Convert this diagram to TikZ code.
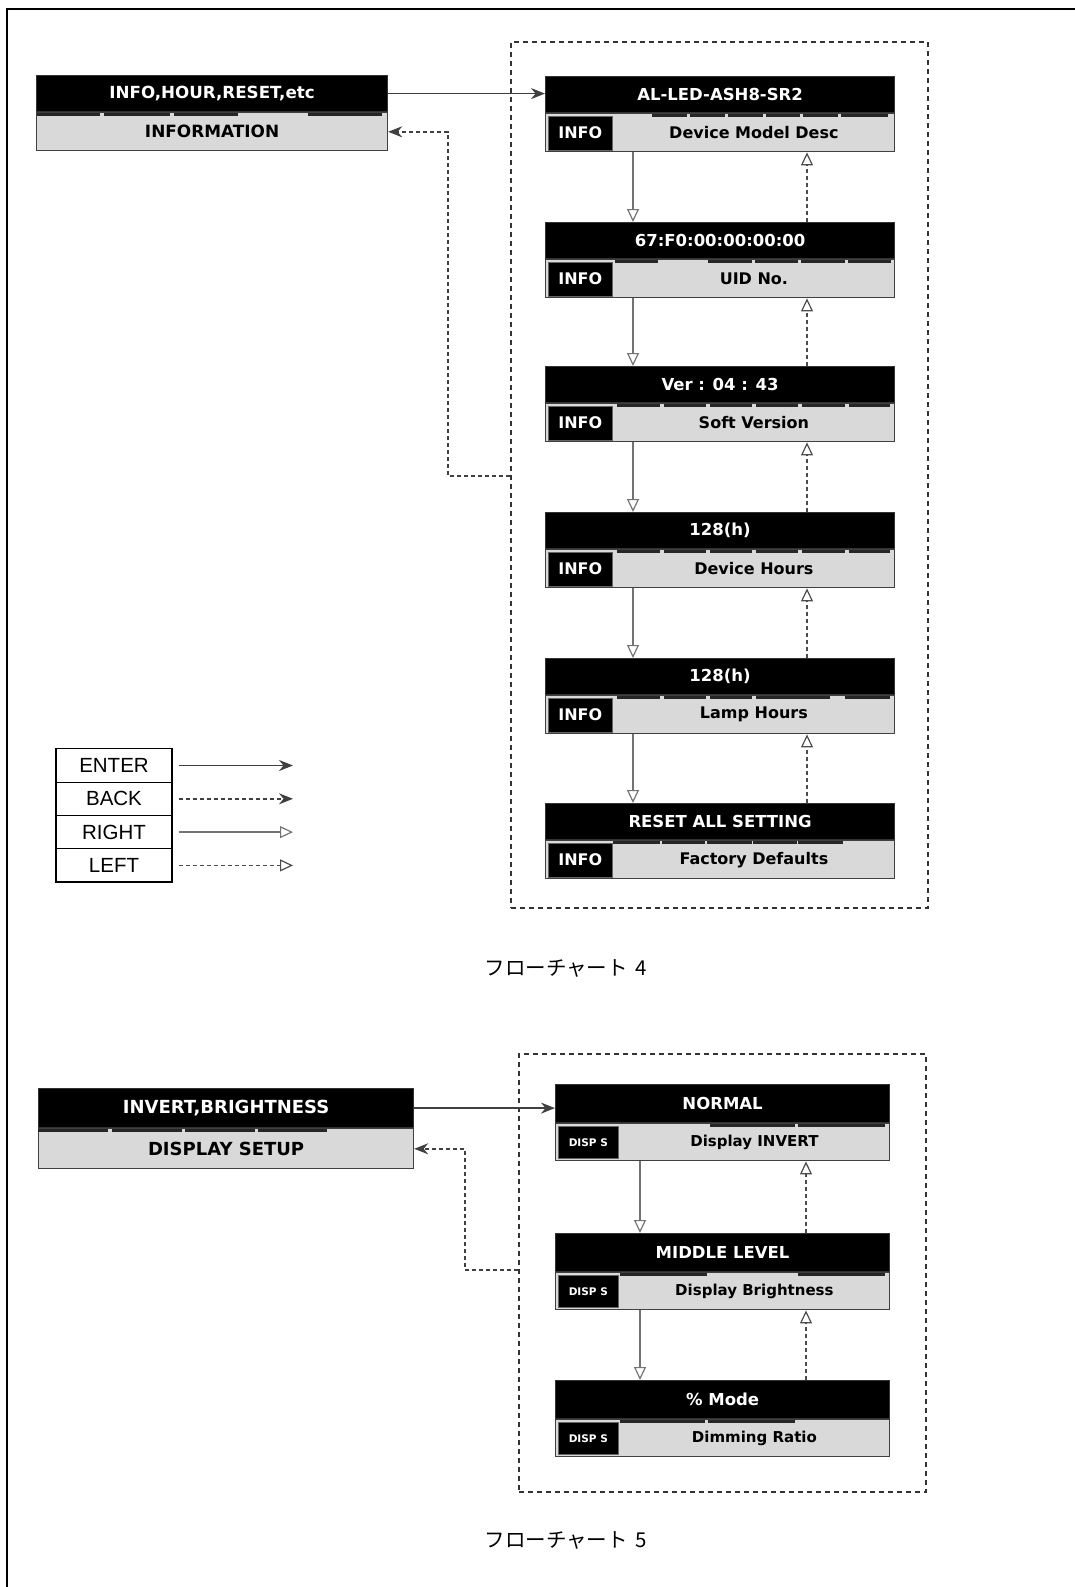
\documentclass[tikz,border=0pt]{standalone}
\usepackage{fontspec}
\setmainfont{DejaVu Sans}
\newfontfamily\lgfont{Liberation Sans}
\newfontfamily\cjkfont{Noto Sans CJK JP}
\usetikzlibrary{arrows.meta,calc}
\newcommand\fsz[1]{\fontsize{#1}{#1}\selectfont}
\def\topH{36}\def\botH{38}\def\tagW{64}\def\tagH{34}\def\lblsize{16}
\tikzset{
  blk/.style={draw=black!80, fill=black, line width=1.2pt, text=white, font=\bfseries\fsz{16.5},
    inner sep=0pt, anchor=north west, minimum height=\topH pt},
  gry/.style={draw=black!75, fill=black!15, line width=1.2pt, text=black, font=\bfseries\fsz{16.5},
    inner sep=0pt, anchor=north west, minimum height=\botH pt},
  tagbox/.style={fill=black, text=white, draw=black!60, line width=0.6pt, font=\bfseries\fsz{16},
    inner sep=0pt, anchor=west, minimum width=\tagW pt, minimum height=\tagH pt},
  lbl/.style={text=black, font=\bfseries\fsz{\lblsize}, inner sep=0pt},
  segbar/.style={line width=2.6pt, draw=black!85},
  framebox/.style={draw=black!80, line width=1.6pt, dash pattern=on 5pt off 4pt, inner sep=0pt, anchor=north west},
  enterarrow/.style={draw=black!75, line width=1.7pt, -{Stealth[length=14pt,width=11pt]}},
  backarrow/.style={draw=black!75, line width=1.5pt, dash pattern=on 4pt off 3pt, -{Stealth[length=14pt,width=11pt]}},
  rightarrow/.style={draw=black!55, line width=1.5pt, -{Triangle[open,length=13pt,width=12pt,line width=1.2pt]}},
  leftarrow/.style={draw=black!70, line width=1.5pt, dash pattern=on 4pt off 3pt, -{Triangle[open,length=13pt,width=12pt,line width=1.2pt]}},
  lgcell/.style={draw=black, line width=1.2pt, minimum width=116pt, minimum height=33.3pt, inner sep=0pt, font=\lgfont\fsz{20.5}},
  caption/.style={font=\cjkfont\fsz{20.5}, inner sep=0pt}
}
% name, x, y, width, top text, tag, label, bars
\newcommand\rbox[8]{%
  \node[blk, minimum width=#4pt] (#1t) at (#2,#3) {#5};
  \node[gry, minimum width=#4pt] (#1g) at (#1t.south west) {};
  \node[tagbox] (#1k) at ([xshift=3pt]#1g.west) {#6};
  \node[lbl] (#1l) at ($(#1k.east)!0.5!(#1g.east)$) {#7};
  \foreach \a/\b in {#8} {\draw[segbar] (\a,#3+\topH+3.5) -- (\b,#3+\topH+3.5);}
}
\begin{document}
\begin{tikzpicture}[x=1pt,y=-1pt]
\useasboundingbox (0,0) rectangle (1075,1587);
% outer border
\draw[line width=2pt] (7,1587) -- (7,9) -- (1075,9);

% ---------------- Flowchart 4 ----------------
\node[framebox, minimum width=417pt, minimum height=866pt] (fr1) at (510,41) {};

\node[blk, minimum width=351pt, font=\bfseries\fsz{16.7}] (L1t) at (36,75) {INFO,HOUR,RESET,etc};
\node[gry, minimum width=351pt, font=\bfseries\fsz{16.9}] (L1g) at (L1t.south west) {INFORMATION};
\foreach \a/\b in {37/100,104/170,174/238,308/382} {\draw[segbar] (\a,114.5) -- (\b,114.5);}

\rbox{b1}{545}{76}{349}{AL-LED-ASH8-SR2}{INFO}{Device Model Desc}{652/687,690/725,728/763,766/800,803/838,841/888}
\rbox{b2}{545}{222}{349}{67:F0:00:00:00:00}{INFO}{UID No.}{615/658,708/752,755/798,801/845,848/891}
\rbox{b3}{545}{366}{349}{Ver : 04 : 43}{INFO}{Soft Version}{617/660,664/706,710/752,756/798,802/845,849/890}
\rbox{b4}{545}{512}{349}{128(h)}{INFO}{Device Hours}{617/660,664/706,710/752,756/798,802/845,849/890}
\rbox{b5}{545}{658}{349}{128(h)}{INFO}{Lamp Hours}{617/660,664/706,710/752,756/830,845/890}
\rbox{b6}{545}{803}{349}{RESET ALL SETTING}{INFO}{Factory Defaults}{613/660,662/705,707/752,753/797,798/843}

\coordinate (xd1) at (633,0);
\coordinate (xu1) at (807,0);
\foreach \i/\j in {b1/b2,b2/b3,b3/b4,b4/b5,b5/b6} {
  \draw[rightarrow] (\i g.south -| xd1) -- (\j t.north -| xd1);
  \draw[leftarrow] (\j t.north -| xu1) -- (\i g.south -| xu1);
}
\draw[enterarrow] (L1t.east) -- (L1t.east -| b1t.west);
\coordinate (k1) at (448,476);
\draw[backarrow] (fr1.west |- k1) -- (k1) |- (L1g.east);

% legend
\node[lgcell] (lg1) at (114,765.5) {ENTER};
\node[lgcell] (lg2) at (114,798.8) {BACK};
\node[lgcell] (lg3) at (114,832.1) {RIGHT};
\node[lgcell] (lg4) at (114,865.4) {LEFT};
\coordinate (lgx) at (293,0);
\draw[enterarrow] ([xshift=6pt]lg1.east) -- (lg1.east -| lgx);
\draw[backarrow] ([xshift=6pt]lg2.east) -- (lg2.east -| lgx);
\draw[rightarrow] ([xshift=6pt]lg3.east) -- (lg3.east -| lgx);
\draw[leftarrow] ([xshift=6pt]lg4.east) -- (lg4.east -| lgx);

\node[caption] (cap1) at (566,968) {フローチャート\hspace{8pt}4};

% ---------------- Flowchart 5 ----------------
\def\topH{38}\def\botH{37}\def\tagW{60}\def\tagH{32}\def\lblsize{15}
\node[framebox, minimum width=407pt, minimum height=438pt] (fr2) at (518,1053) {};

\node[blk, minimum width=375pt, minimum height=39pt, font=\bfseries\fsz{18}] (L2t) at (38,1088) {INVERT,BRIGHTNESS};
\node[gry, minimum width=375pt, minimum height=40pt, font=\bfseries\fsz{18}] (L2g) at (L2t.south west) {DISPLAY SETUP};
\foreach \a/\b in {38/108,112/182,185/255,258/327} {\draw[segbar] (\a,1130.5) -- (\b,1130.5);}

\rbox{n1}{555}{1084}{334}{NORMAL}{\fsz{10.5}DISP S}{Display INVERT}{710/795,798/885}
\rbox{n2}{555}{1233}{334}{MIDDLE LEVEL}{\fsz{10.5}DISP S}{Display Brightness}{620/707,798/885}
\rbox{n3}{555}{1380}{334}{\% Mode}{\fsz{10.5}DISP S}{Dimming Ratio}{620/705,708/795}

\coordinate (xd2) at (640,0);
\coordinate (xu2) at (806,0);
\foreach \i/\j in {n1/n2,n2/n3} {
  \draw[rightarrow] (\i g.south -| xd2) -- (\j t.north -| xd2);
  \draw[leftarrow] (\j t.north -| xu2) -- (\i g.south -| xu2);
}
\draw[enterarrow] (L2t.east) -- (L2t.east -| n1t.west);
\coordinate (k2) at (465,1270);
\draw[backarrow] (fr2.west |- k2) -- (k2) |- (L2g.east);

\node[caption] (cap2) at (566,1540) {フローチャート\hspace{8pt}5};
\end{tikzpicture}
\end{document}
